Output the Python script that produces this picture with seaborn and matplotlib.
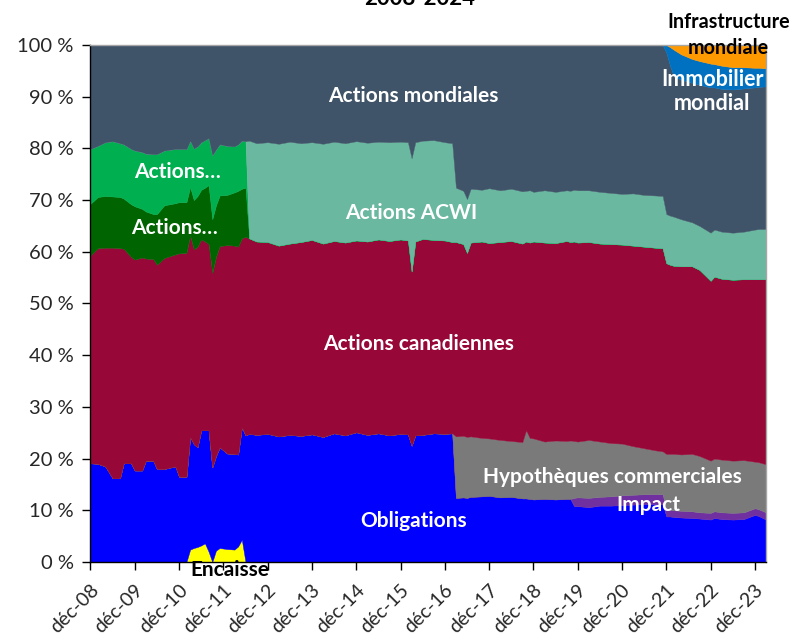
import matplotlib
matplotlib.use("Agg")
import matplotlib.pyplot as plt
import matplotlib.transforms as mtransforms
import seaborn as sns

# Monthly observation points (year-month)
dates = [
    "2008-12", "2009-02", "2009-04", "2009-06", "2009-08", "2009-09", "2009-11", "2009-12",
    "2010-02", "2010-03", "2010-05", "2010-06", "2010-08", "2010-11", "2010-12", "2011-02",
    "2011-03", "2011-04", "2011-05", "2011-06", "2011-07", "2011-08", "2011-09", "2011-10",
    "2011-11", "2012-01", "2012-03", "2012-04", "2012-05", "2012-06",
    "2012-07", "2012-09", "2012-12", "2013-03", "2013-06", "2013-09", "2013-12", "2014-03",
    "2014-06", "2014-09", "2014-12", "2015-03", "2015-06", "2015-09", "2015-12", "2016-02",
    "2016-03", "2016-04", "2016-06", "2016-09", "2016-12", "2017-02",
    "2017-03", "2017-05", "2017-06", "2017-07", "2017-10", "2017-12", "2018-03", "2018-06",
    "2018-09", "2018-10", "2018-11", "2018-12", "2019-03", "2019-06", "2019-09", "2019-10",
    "2019-11", "2019-12", "2020-03", "2020-06", "2020-09", "2020-12", "2021-03", "2021-06",
    "2021-09", "2021-11", "2021-12", "2022-01", "2022-02", "2022-04", "2022-07", "2022-09",
    "2022-12", "2023-01", "2023-03", "2023-06", "2023-09", "2023-12", "2024-01", "2024-03",
]

# Asset mix (% of total), bottom to top of the stack
encaisse = ([0.0] * 16
            + [2.4, 2.7, 2.9, 3.2, 3.6, 2.0, 0.0, 2.2, 2.7, 2.5, 2.4, 3.0, 4.3, 0.0]
            + [0.0] * 62)

obligations = [
    19.1, 19.0, 18.5, 16.2, 16.2, 19.1, 19.1, 17.7, 17.7, 19.6, 19.6, 18.0, 18.0, 18.5, 16.5, 16.5,
    21.8, 20.1, 19.3, 22.3, 21.9, 23.5, 18.3, 18.3, 19.5, 18.5, 18.5, 17.8, 21.8, 24.5,
    24.8, 24.6, 24.8, 24.3, 24.6, 24.4, 24.7, 24.2, 24.9, 24.5, 25.1, 24.6, 24.9, 24.5, 24.8, 24.7,
    22.5, 24.5, 24.6, 24.9, 24.8, 24.9,
    12.4, 12.5, 12.4, 12.6, 12.7, 12.8, 12.5, 12.6, 12.3, 12.3,
    12.2, 12.1, 12.2, 12.1, 12.2, 12.2, 10.8, 10.8, 10.6, 10.9,
    10.9, 11.0, 11.1, 11.2, 11.2, 11.2, 8.8, 8.8, 8.7, 8.6,
    8.5, 8.4, 8.2, 8.5, 8.3, 8.2, 8.3, 9.1, 8.9, 8.2,
]

impact = ([0.0] * 68
          + [1.6, 1.7, 1.8, 1.7,
             1.8, 1.9, 1.9, 1.9, 1.9, 1.9, 1.3, 1.3, 1.3, 1.3,
             1.3, 1.2, 1.3, 1.3, 1.3, 1.3, 1.3, 1.3, 1.3, 1.4])

hypotheques = ([0.0] * 52
               + [11.9, 11.9, 11.8, 11.7, 11.3, 11.1, 11.1, 10.8, 10.9, 13.2,
                  11.8, 11.8, 11.1, 11.4, 11.2, 11.3, 11.0, 10.8, 11.2, 10.7,
                  10.3, 10.0, 9.4, 8.9, 8.5, 8.3, 10.8, 10.8, 10.9, 10.9,
                  11.1, 10.9, 10.1, 10.2, 10.2, 10.1, 10.1, 9.0, 9.1, 9.3])

actions_canadiennes = [
    40.2, 41.7, 42.3, 44.6, 44.5, 41.5, 39.9, 40.8, 41.2, 39.1, 39.0, 39.5, 40.8, 41.0, 43.2, 43.3,
    38.9, 37.7, 38.8, 36.9, 36.5, 36.0, 37.6, 38.5, 38.9, 40.3, 40.3, 40.2, 36.5, 38.4,
    37.8, 37.4, 37.1, 36.9, 37.0, 37.5, 37.6, 37.4, 37.2, 37.3, 37.1, 37.4, 37.5, 37.6, 37.6, 37.5,
    33.7, 37.5, 37.9, 37.4, 37.4, 37.0,
    37.6, 37.1, 35.6, 37.5, 38.0, 37.8, 38.3, 38.7, 38.4, 36.5,
    37.8, 38.1, 38.5, 38.2, 38.7, 38.4, 38.6, 38.5, 38.3, 38.3,
    38.5, 38.5, 38.8, 39.0, 39.2, 39.3, 36.9, 36.6, 36.4, 36.4,
    36.3, 36.0, 34.8, 35.2, 35.0, 35.0, 35.0, 35.3, 35.4, 35.8,
]

actions_bas = ([10.0, 9.9, 10.0, 9.9, 9.9, 9.7, 10.2, 10.3, 9.4, 9.1, 8.7, 9.8, 10.2, 9.9, 9.9, 9.8,
                9.4, 9.5, 9.8, 9.6, 10.4, 11.4, 10.4, 10.0, 9.8, 9.7, 10.3, 10.8, 9.6, 9.5]
               + [0.0] * 62)

actions_haut = ([10.6, 9.9, 10.4, 10.7, 10.4, 10.5, 10.7, 10.8, 11.0, 11.2, 11.6, 11.6, 10.6, 10.5, 10.3, 10.3,
                 9.0, 10.0, 9.6, 9.2, 9.2, 9.1, 12.4, 10.8, 9.9, 9.5, 8.9, 9.0, 9.3, 9.0]
                + [0.0] * 62)

actions_acwi = ([0.0] * 30
                + [18.9, 19.0, 19.3, 19.7, 19.7, 19.1, 18.9, 19.3, 19.2, 19.2, 19.2, 19.1, 18.9, 19.1,
                   18.9, 19.0, 21.9, 19.2, 19.0, 19.3, 19.0, 19.1,
                   10.5, 10.3, 10.4, 10.4, 10.0, 10.6, 10.0, 10.1, 10.1, 9.8,
                   10.1, 9.6, 10.1, 9.9, 9.8, 9.9, 10.0, 10.1, 10.0, 10.0,
                   9.9, 9.8, 10.1, 10.0, 10.1, 10.1, 9.5, 9.5, 9.5, 9.1,
                   8.5, 8.5, 9.3, 9.1, 9.1, 9.1, 9.2, 9.6, 9.7, 9.7])

actions_mondiales = [
    20.1, 19.5, 18.8, 18.6, 19.0, 19.2, 20.1, 20.4, 20.7, 21.0, 21.1, 21.1, 20.4, 20.1, 20.1, 20.1,
    18.5, 20.0, 19.6, 18.8, 18.4, 18.0, 21.3, 20.2, 19.2, 19.5, 19.6, 19.2, 18.5, 18.6,
    18.5, 19.0, 18.8, 19.1, 18.7, 19.0, 18.8, 19.1, 18.7, 19.0, 18.6, 18.9, 18.7, 18.8, 18.7, 18.8,
    21.9, 18.8, 18.5, 18.4, 18.8, 19.0,
    27.6, 28.2, 29.8, 27.8, 28.0, 27.7, 28.1, 27.8, 28.3, 28.2,
    28.1, 28.4, 28.1, 28.4, 28.1, 28.2, 28.0, 28.1, 28.1, 28.4,
    28.6, 28.8, 28.7, 29.0, 29.1, 29.2, 31.2, 29.0, 27.2, 27.0,
    27.0, 27.3, 28.1, 27.5, 27.6, 27.7, 27.7, 27.5, 27.5, 27.6,
]

immobilier_mondial = ([0.0] * 78
                      + [1.5, 3.6, 5.1, 4.9, 4.6, 4.6, 4.6, 4.5, 4.5, 4.3, 4.1, 3.8, 3.7, 3.5])

infrastructure_mondiale = ([0.0] * 78
                           + [0.0, 0.4, 0.9, 1.8, 2.7, 3.1, 3.6, 3.7, 4.0, 4.3, 4.3, 4.4, 4.4, 4.5])

tick_labels = ["déc-08", "déc-09", "déc-10", "déc-11", "déc-12", "déc-13", "déc-14", "déc-15",
               "déc-16", "déc-17", "déc-18", "déc-19", "déc-20", "déc-21", "déc-22", "déc-23"]

colors = ["#ffff00", "#0000ff", "#7030a0", "#7a7a7a", "#970838", "#006400",
          "#00b050", "#6bb8a0", "#3f5468", "#0070c0", "#ff9900"]

sns.set_theme(style="white")
plt.rcParams["font.family"] = ["Lato", "DejaVu Sans"]
palette = sns.color_palette(colors)

# months elapsed since December 2008
x = [(int(d[:4]) - 2008) * 12 + int(d[5:]) - 12 for d in dates]

fig = plt.figure(figsize=(7.97, 6.35), dpi=100)
ax = fig.add_axes([0.1135, 0.115, 0.8476, 0.8141])

ax.stackplot(
    x,
    encaisse, obligations, impact, hypotheques, actions_canadiennes,
    actions_bas, actions_haut, actions_acwi, actions_mondiales,
    immobilier_mondial, infrastructure_mondiale,
    colors=palette, edgecolor="face", linewidth=0.3,
)

ax.set_xlim(0, 183)
ax.set_ylim(0, 100)
ax.set_yticks(range(0, 101, 10))
ax.set_yticklabels([f"{v} %" for v in range(0, 101, 10)], fontsize=14.5)
ax.set_xticks(range(0, 181, 12))
ax.set_xticklabels(tick_labels, rotation=45, ha="right", va="center",
                   rotation_mode="anchor", fontsize=14)
ax.tick_params(axis="both", direction="out", length=6, width=1, color="black",
               left=True, bottom=True)
ax.tick_params(axis="y", pad=6)
ax.tick_params(axis="x", pad=12)

# nudge the slanted date labels slightly right so their ends sit under the ticks
shift = mtransforms.ScaledTranslation(4 / 72, 0, fig.dpi_scale_trans)
for lbl in ax.get_xticklabels():
    lbl.set_transform(lbl.get_transform() + shift)

for side in ("left", "bottom"):
    ax.spines[side].set_color("black")
    ax.spines[side].set_linewidth(1.0)
for side in ("top", "right"):
    ax.spines[side].set_color("#a6a6a6")
    ax.spines[side].set_linewidth(1.0)

white = dict(color="white", fontsize=15, fontweight="bold", ha="center", va="center")
black = dict(color="black", fontsize=15, fontweight="bold", ha="center", va="center")

ax.text(87.4, 90.1, "Actions mondiales", **white)
ax.text(23.7, 75.5, "Actions…", **white)
ax.text(22.8, 64.7, "Actions…", **white)
ax.text(86.8, 67.5, "Actions ACWI", **white)
ax.text(89.0, 42.2, "Actions canadiennes", **white)
ax.text(141.5, 16.4, "Hypothèques commerciales", **white)
ax.text(151.2, 11.0, "Impact", **white)
ax.text(87.4, 7.9, "Obligations", **white)
ax.text(168.5, 91.0, "Immobilier\nmondial", linespacing=1.2, clip_on=False,
        **{**white, "fontsize": 15.5})
ax.text(37.7, -1.6, "Encaisse", clip_on=False, **black)
ax.text(172.8, 101.9, "Infrastructure\nmondiale", linespacing=1.35, clip_on=False,
        **{**black, "fontsize": 14.2})

fig.text(420 / 797, 1 - 5 / 635, "2008-2024", ha="center", va="baseline",
         fontsize=16, fontweight="bold", color="black")

fig.savefig("out.png", dpi=100)
